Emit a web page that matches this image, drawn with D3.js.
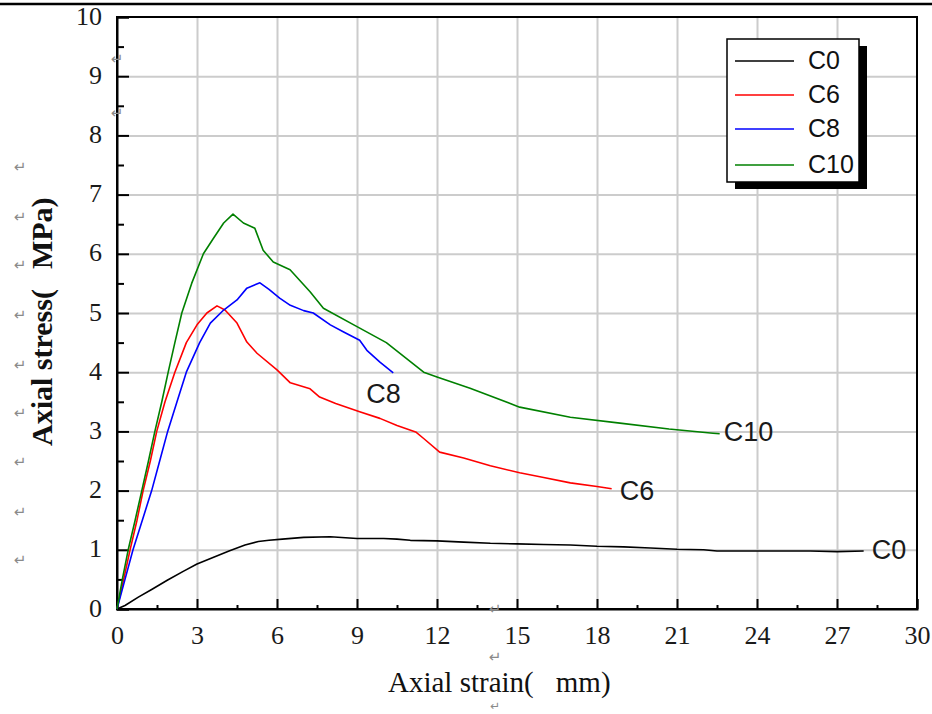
<!DOCTYPE html>
<html>
<head>
<meta charset="utf-8">
<script src="https://cdn.jsdelivr.net/npm/d3@7"></script>
<style>
  html, body { margin: 0; padding: 0; background: #fff; }
  svg { display: block; }
</style>
</head>
<body>
<svg id="chart" width="932" height="714"></svg>
<script>
// ---- data: axial strain (mm) vs axial stress (MPa) ----
const seriesNames = ["C0", "C6", "C8", "C10"];

const c0Strain = [0, 0.3, 0.8, 1.3, 1.9, 2.5, 3.0, 3.6, 4.2, 4.8, 5.3, 5.7, 6.2, 7.0, 8.0, 9.0, 10.0, 10.5, 11.0, 12.0, 13.0, 14.0, 15.0, 16.0, 17.0, 18.0, 19.0, 20.0, 21.0, 22.0, 22.5, 23.0, 24.0, 25.0, 26.0, 27.0, 28.0];
const c0Stress = [0, 0.06, 0.2, 0.33, 0.49, 0.64, 0.76, 0.87, 0.98, 1.08, 1.14, 1.16, 1.18, 1.21, 1.22, 1.19, 1.19, 1.18, 1.16, 1.15, 1.13, 1.11, 1.10, 1.09, 1.08, 1.06, 1.05, 1.03, 1.01, 1.00, 0.98, 0.98, 0.98, 0.98, 0.98, 0.97, 0.98];

const c6Strain = [0, 0.25, 0.49, 0.75, 0.98, 1.25, 1.49, 1.8, 2.17, 2.6, 3.0, 3.37, 3.75, 4.05, 4.5, 4.87, 5.25, 6.0, 6.5, 7.24, 7.6, 8.2, 9.1, 9.86, 10.5, 11.2, 11.5, 12.1, 13.0, 14.0, 15.1, 16.0, 17.0, 18.0, 18.55];
const c6Stress = [0, 0.5, 1.0, 1.5, 2.0, 2.5, 3.0, 3.5, 4.0, 4.5, 4.8, 5.0, 5.12, 5.05, 4.83, 4.51, 4.32, 4.04, 3.82, 3.72, 3.58, 3.47, 3.33, 3.22, 3.1, 2.99, 2.88, 2.65, 2.55, 2.42, 2.30, 2.22, 2.13, 2.07, 2.03];

const c8Strain = [0, 0.3, 0.6, 0.95, 1.3, 1.6, 1.9, 2.25, 2.6, 3.1, 3.5, 4.0, 4.5, 4.87, 5.36, 5.7, 6.1, 6.5, 7.0, 7.36, 8.0, 8.5, 9.1, 9.37, 9.86, 10.36];
const c8Stress = [0, 0.5, 1.0, 1.5, 2.0, 2.5, 3.0, 3.5, 4.0, 4.5, 4.83, 5.05, 5.22, 5.42, 5.51, 5.40, 5.25, 5.13, 5.04, 5.0, 4.8, 4.68, 4.54, 4.37, 4.17, 3.99];

const c10Strain = [0, 0.2, 0.42, 0.68, 0.93, 1.18, 1.42, 1.68, 1.92, 2.17, 2.43, 2.8, 3.24, 3.6, 4.0, 4.35, 4.74, 5.17, 5.48, 5.86, 6.49, 7.24, 7.74, 9.0, 10.1, 11.5, 12.0, 13.24, 15.1, 17.0, 18.86, 20.7, 22.35, 22.6];
const c10Stress = [0, 0.5, 1.0, 1.5, 2.0, 2.5, 3.0, 3.5, 4.0, 4.5, 5.0, 5.5, 6.0, 6.25, 6.52, 6.67, 6.52, 6.43, 6.06, 5.86, 5.73, 5.36, 5.08, 4.77, 4.5, 4.0, 3.92, 3.73, 3.41, 3.24, 3.14, 3.04, 2.97, 2.96];

const xMajorTicks = [0, 3, 6, 9, 12, 15, 18, 21, 24, 27, 30];
const yMajorTicks = [0, 1, 2, 3, 4, 5, 6, 7, 8, 9, 10];
const xTitle = ["Axial strain(", "mm)"];
const yTitle = ["Axial stress(", "MPa)"];

// ---- styling / layout ----
const colors = { C0: "#000000", C6: "#ff0000", C8: "#0000ff", C10: "#008000" };
const labelOffset = { C0: [8, 8], C6: [8, 11], C8: [-27, 30], C10: [4, 7] };
const plot = { left: 117, right: 917, top: 17, bottom: 609 };

const svg = d3.select("#chart");
const x = d3.scaleLinear().domain([0, 30]).range([plot.left, plot.right]);
const y = d3.scaleLinear().domain([0, 10]).range([plot.bottom, plot.top]);

const serif = "'Liberation Serif', 'Times New Roman', serif";
const sans = "'Liberation Sans', Arial, sans-serif";

// horizontal rule across the top of the page
svg.append("line").attr("x1", 0).attr("x2", 932).attr("y1", 4).attr("y2", 4)
  .attr("stroke", "#000").attr("stroke-width", 2.5);

// grid
const grid = svg.append("g").attr("class", "grid");
grid.append("g").attr("transform", `translate(0,${plot.bottom})`)
  .call(d3.axisBottom(x).tickValues(xMajorTicks.slice(1, -1)).tickSize(-(plot.bottom - plot.top)).tickFormat(""));
grid.append("g").attr("transform", `translate(${plot.left},0)`)
  .call(d3.axisLeft(y).tickValues(yMajorTicks.slice(1, -1)).tickSize(-(plot.right - plot.left)).tickFormat(""));
grid.selectAll(".domain").remove();
grid.selectAll("line").attr("stroke", "#cccccc").attr("stroke-width", 2);

// frame
svg.append("rect").attr("x", plot.left).attr("y", plot.top)
  .attr("width", plot.right - plot.left).attr("height", plot.bottom - plot.top)
  .attr("fill", "none").attr("stroke", "#000").attr("stroke-width", 2);

// axes with inward ticks
const xMinor = d3.range(1.5, 30, 3);
const yMinor = d3.range(0.5, 10, 1);
const axes = svg.append("g").attr("class", "axes");

const gx = axes.append("g").attr("transform", `translate(0,${plot.bottom})`)
  .call(d3.axisBottom(x).tickValues(xMajorTicks).tickSize(-10).tickFormat(d3.format("d")));
axes.append("g").attr("transform", `translate(0,${plot.bottom})`)
  .call(d3.axisBottom(x).tickValues(xMinor).tickSize(-4).tickFormat(""))
  .select(".domain").remove();

const gy = axes.append("g").attr("transform", `translate(${plot.left},0)`)
  .call(d3.axisLeft(y).tickValues(yMajorTicks).tickSize(-12).tickPadding(15).tickFormat(d3.format("d")));
axes.append("g").attr("transform", `translate(${plot.left},0)`)
  .call(d3.axisLeft(y).tickValues(yMinor).tickSize(-7).tickFormat(""))
  .select(".domain").remove();

axes.selectAll(".tick line").attr("stroke", "#000").attr("stroke-width", 2);
axes.selectAll(".domain").attr("stroke", "#000").attr("stroke-width", 2);

gx.selectAll("text").attr("y", 35).attr("dy", 0)
  .attr("font-family", serif).attr("font-size", 26).attr("fill", "#1a1a1a");
gy.selectAll("text").attr("dy", "0.27em")
  .attr("font-family", serif).attr("font-size", 26).attr("fill", "#1a1a1a");

// axis titles
const xt = svg.append("text").attr("x", 388).attr("y", 692)
  .attr("font-family", serif).attr("font-size", 29).attr("fill", "#111");
xt.append("tspan").text(xTitle[0]);
xt.append("tspan").attr("dx", 22).text(xTitle[1]);

const yt = svg.append("text").attr("transform", "translate(52,446) rotate(-90)")
  .attr("font-family", serif).attr("font-size", 30).attr("font-weight", "bold").attr("fill", "#111");
yt.append("tspan").text(yTitle[0]);
yt.append("tspan").attr("dx", 20).text(yTitle[1]);

// curves
const series = [
  { name: "C0", xs: c0Strain, ys: c0Stress },
  { name: "C6", xs: c6Strain, ys: c6Stress },
  { name: "C8", xs: c8Strain, ys: c8Stress },
  { name: "C10", xs: c10Strain, ys: c10Stress }
].map(s => ({ name: s.name, pts: s.xs.map((v, i) => [v, s.ys[i]]) }));

const line = d3.line().x(d => x(d[0])).y(d => y(d[1]));
svg.append("g").selectAll("path").data(series).join("path")
  .attr("d", d => line(d.pts))
  .attr("fill", "none")
  .attr("stroke", d => colors[d.name])
  .attr("stroke-width", 1.6)
  .attr("stroke-linejoin", "round");

// end-of-curve labels
svg.append("g").selectAll("text").data(series).join("text")
  .attr("x", d => x(d.pts[d.pts.length - 1][0]) + labelOffset[d.name][0])
  .attr("y", d => y(d.pts[d.pts.length - 1][1]) + labelOffset[d.name][1])
  .attr("font-family", sans).attr("font-size", 27).attr("fill", "#1a1a1a")
  .text(d => d.name);

// legend with drop shadow
const legend = svg.append("g").attr("transform", "translate(727,39)");
legend.append("rect").attr("x", 8).attr("y", 7).attr("width", 132).attr("height", 143).attr("fill", "#000");
legend.append("rect").attr("x", 0).attr("y", 0).attr("width", 132).attr("height", 143)
  .attr("fill", "#fff").attr("stroke", "#000").attr("stroke-width", 1.5);
const items = legend.selectAll("g.item").data(seriesNames).join("g")
  .attr("class", "item")
  .attr("transform", (d, i) => `translate(0,${[22, 56, 90, 126][i]})`);
items.append("line").attr("x1", 8).attr("x2", 67).attr("y1", 0).attr("y2", 0)
  .attr("stroke", d => colors[d]).attr("stroke-width", 1.6);
items.append("text").attr("x", 81).attr("y", 8)
  .attr("font-family", sans).attr("font-size", 25).attr("fill", "#111")
  .text(d => d);

// paragraph marks scattered around the figure: [x, baseline, size]
const marks = [[117, 64, 15], [117, 118, 15], [20, 172, 15], [20, 222, 15], [20, 270, 15], [20, 320, 15], [20, 370, 15], [20, 418, 15], [20, 467, 15], [20, 517, 15], [20, 565, 15], [495, 614, 15], [495, 662, 15], [495, 710, 12]];
svg.append("g").selectAll("text").data(marks).join("text")
  .attr("x", d => d[0]).attr("y", d => d[1])
  .attr("text-anchor", "middle")
  .attr("font-family", "'DejaVu Sans', sans-serif").attr("font-size", d => d[2]).attr("fill", "#8a8a8a")
  .text("\u21B5");
</script>
</body>
</html>
